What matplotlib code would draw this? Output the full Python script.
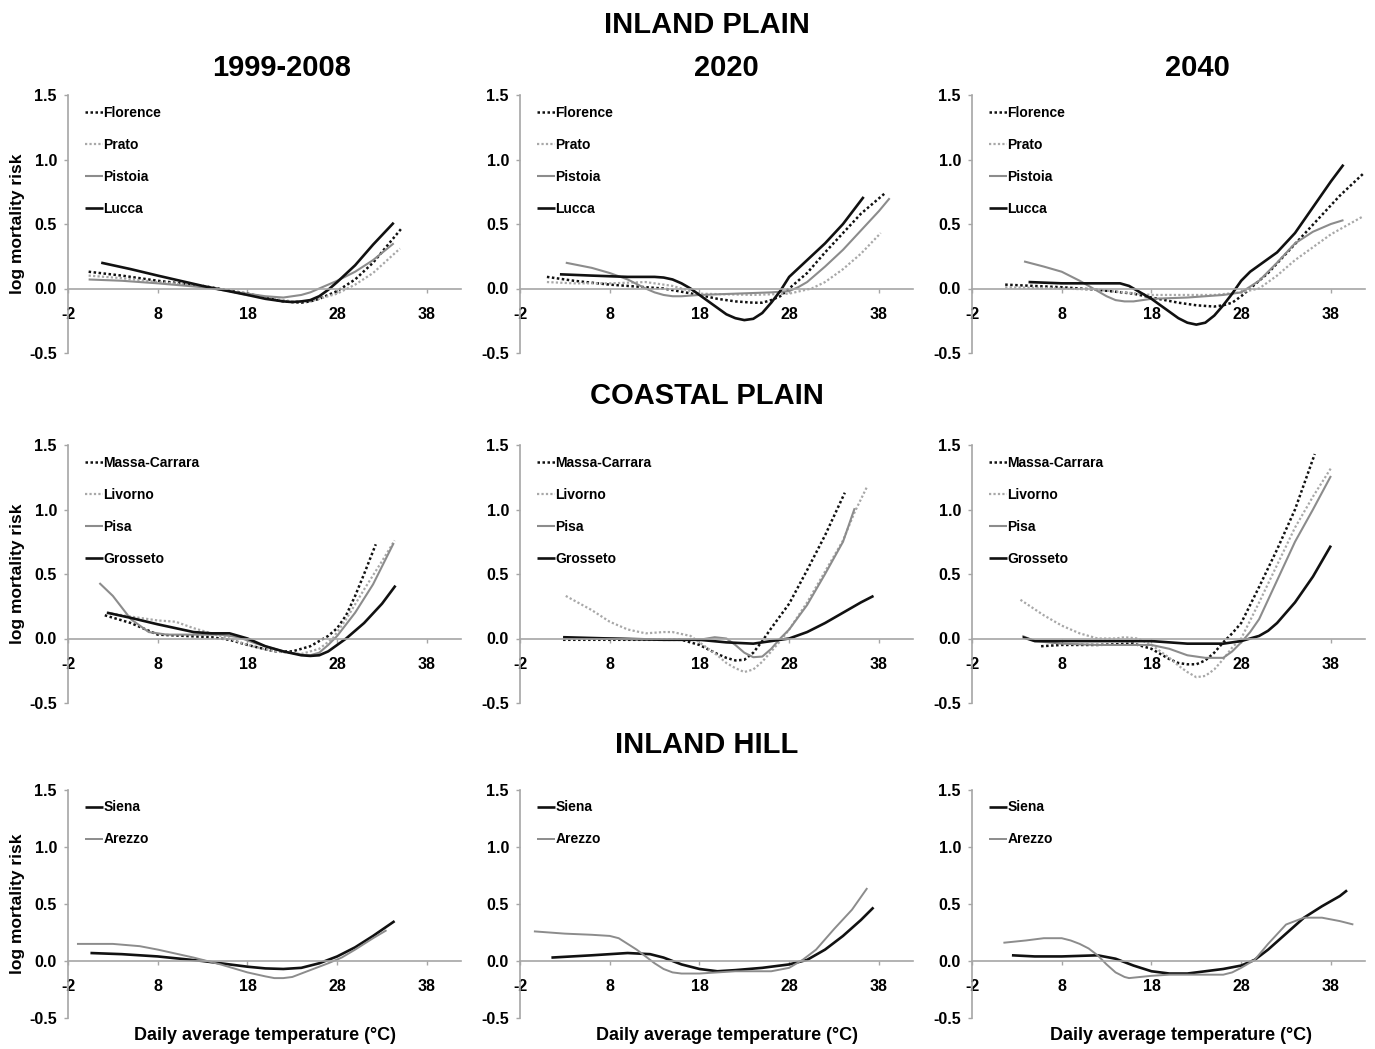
import matplotlib
matplotlib.use("Agg")
import matplotlib.pyplot as plt

plt.rcParams['font.family'] = ['Liberation Sans', 'DejaVu Sans']

# ---------------- data ----------------
periods = ["1999-2008", "2020", "2040"]
regions = ["INLAND PLAIN", "COASTAL PLAIN", "INLAND HILL"]
xticks = [-2, 8, 18, 28, 38]
yticks = [-0.5, 0.0, 0.5, 1.0, 1.5]

# Inland plain
florence_x = [[0.3, 4, 8, 13, 18, 20, 22, 24, 25, 26, 27, 28, 30, 32, 35.1],
              [1.0, 4, 8, 14, 18, 20, 22, 24, 25, 26, 27, 28, 30, 32, 34, 36, 38.7],
              [1.7, 8, 12, 16, 18, 21, 23, 25, 26, 27, 28, 29, 31, 33, 35, 37, 39, 41.6]]
florence_y = [[0.13, 0.1, 0.06, 0.02, -0.04, -0.07, -0.1, -0.11, -0.1, -0.08, -0.05, -0.02, 0.07, 0.2, 0.46],
              [0.09, 0.06, 0.03, 0.0, -0.05, -0.08, -0.1, -0.11, -0.11, -0.09, -0.06, 0.0, 0.12, 0.28, 0.43, 0.58, 0.74],
              [0.03, 0.01, -0.01, -0.04, -0.07, -0.11, -0.13, -0.14, -0.13, -0.11, -0.06, 0.0, 0.12, 0.27, 0.42, 0.57, 0.72, 0.89]]
prato_x = [[0.3, 4, 8, 13, 18, 21, 23, 25, 26, 28, 30, 32, 35],
           [1.0, 4, 8, 12, 15, 18, 24, 28, 30.5, 32, 34, 36, 38.2],
           [1.7, 8, 12, 18, 25, 28, 30, 32, 34, 36, 38, 41.6]]
prato_y = [[0.1, 0.08, 0.05, 0.02, -0.05, -0.08, -0.1, -0.1, -0.08, -0.04, 0.03, 0.12, 0.31],
           [0.05, 0.04, 0.04, 0.05, 0.02, -0.04, -0.05, -0.04, 0.0, 0.05, 0.15, 0.27, 0.43],
           [0.01, 0.0, -0.01, -0.05, -0.05, -0.03, 0.0, 0.1, 0.22, 0.32, 0.42, 0.56]]
pistoia_x = [[0.3, 4, 8, 13, 18, 20, 22, 24, 25, 26, 27, 28, 30, 32, 34.3],
             [3.1, 6, 8, 10, 12, 13, 14, 15, 16, 18, 22, 26, 28, 29, 30, 32, 34, 36, 38, 39.2],
             [3.8, 6, 8, 10, 12, 13, 14, 15, 16, 18, 22, 26, 28, 30, 32, 34, 36, 38, 39.4]]
pistoia_y = [[0.07, 0.06, 0.04, 0.01, -0.04, -0.06, -0.07, -0.05, -0.03, 0.0, 0.03, 0.06, 0.13, 0.22, 0.35],
             [0.2, 0.16, 0.12, 0.07, 0.0, -0.03, -0.05, -0.06, -0.06, -0.05, -0.04, -0.03, -0.02, 0.01, 0.05, 0.17, 0.3, 0.45, 0.6, 0.7],
             [0.21, 0.17, 0.13, 0.06, -0.02, -0.06, -0.09, -0.1, -0.1, -0.08, -0.07, -0.05, -0.03, 0.06, 0.2, 0.35, 0.44, 0.5, 0.53]]
lucca_x = [[1.7, 5, 8, 13, 18, 20, 22, 23, 24, 25, 26, 27, 28, 30, 32, 34.3],
           [2.45, 6, 10, 13, 14, 15, 16, 17, 18, 19, 20, 21, 22, 23, 24, 25, 26, 27, 28, 30, 32, 34, 36.3],
           [4.3, 8, 12, 14.5, 15.5, 16.5, 18, 19, 20, 21, 22, 23, 24, 25, 26, 27, 28, 29, 30, 32, 34, 36, 38, 39.4]]
lucca_y = [[0.2, 0.15, 0.1, 0.02, -0.05, -0.08, -0.1, -0.105, -0.1, -0.09, -0.06, -0.01, 0.05, 0.18, 0.34, 0.51],
           [0.11, 0.1, 0.09, 0.09, 0.085, 0.07, 0.04, 0.0, -0.05, -0.1, -0.15, -0.2, -0.23, -0.245, -0.235, -0.19, -0.11, -0.02, 0.09, 0.22, 0.35, 0.5, 0.71],
           [0.05, 0.04, 0.04, 0.04, 0.02, -0.02, -0.08, -0.13, -0.18, -0.23, -0.265, -0.28, -0.265, -0.21, -0.13, -0.04, 0.06, 0.13, 0.18, 0.28, 0.43, 0.63, 0.83, 0.96]]

# Coastal plain
massa_x = [[2.1, 5, 8, 11, 14, 16, 18, 21, 23, 25, 27, 28, 29, 30, 31, 32.3],
           [2.8, 8, 12, 16, 18, 20, 21, 22, 23, 24, 25, 26, 28, 30, 32, 34.2],
           [5.7, 8, 12, 16, 18, 20, 21, 22, 23, 24, 25, 26, 27, 28, 30, 32, 34, 36.2]]
massa_y = [[0.18, 0.12, 0.03, 0.02, 0.01, -0.01, -0.05, -0.1, -0.1, -0.06, 0.02, 0.08, 0.18, 0.33, 0.5, 0.73],
           [-0.01, -0.01, -0.01, -0.01, -0.05, -0.12, -0.15, -0.17, -0.165, -0.11, -0.02, 0.08, 0.27, 0.53, 0.8, 1.13],
           [-0.06, -0.05, -0.05, -0.04, -0.08, -0.16, -0.19, -0.2, -0.2, -0.17, -0.11, -0.03, 0.04, 0.12, 0.4, 0.69, 1.0, 1.43]]
livorno_x = [[2.3, 5, 8, 10, 12, 14, 16, 18, 21, 24, 26, 27.5, 29, 31, 33, 34.4],
             [3.1, 6, 8, 10, 12, 14, 15, 17, 18, 20, 21, 22, 23, 24, 25, 26, 27, 28, 30, 32, 34, 35.3, 36.7],
             [3.4, 6, 8, 10, 12, 14, 15, 16.5, 18, 20, 21, 22, 23, 24, 25, 26, 27, 28, 30, 32, 34, 36, 38]]
livorno_y = [[0.2, 0.17, 0.14, 0.13, 0.08, 0.04, 0.0, -0.05, -0.1, -0.12, -0.08, 0.0, 0.15, 0.38, 0.6, 0.76],
             [0.33, 0.22, 0.13, 0.07, 0.04, 0.05, 0.05, 0.02, -0.03, -0.13, -0.19, -0.23, -0.26, -0.24, -0.18, -0.1, -0.02, 0.07, 0.28, 0.52, 0.76, 0.98, 1.18],
             [0.3, 0.18, 0.1, 0.04, 0.0, 0.0, 0.01, 0.0, -0.05, -0.15, -0.21, -0.26, -0.3, -0.29, -0.24, -0.16, -0.07, 0.0, 0.28, 0.57, 0.86, 1.1, 1.32]]
pisa_x = [[1.5, 3, 5, 7, 9, 12, 15, 17, 19, 22, 24, 25, 26, 27, 28, 30, 32, 34.3],
          [2.8, 8, 14, 18, 19.7, 21, 22, 23, 24, 25, 26, 27, 28, 30, 32, 34, 35.3],
          [3.6, 5, 8, 12, 16, 18, 20, 22, 24, 26, 27, 28, 29, 30, 32, 34, 36, 38]]
pisa_y = [[0.43, 0.33, 0.15, 0.05, 0.03, 0.03, 0.03, 0.01, -0.04, -0.1, -0.125, -0.13, -0.11, -0.05, 0.02, 0.2, 0.42, 0.74],
          [0.0, 0.0, -0.01, -0.01, 0.01, 0.0, -0.05, -0.11, -0.145, -0.14, -0.08, 0.0, 0.07, 0.26, 0.5, 0.75, 1.01],
          [0.02, -0.02, -0.04, -0.05, -0.05, -0.05, -0.08, -0.13, -0.15, -0.15, -0.1, -0.03, 0.05, 0.15, 0.45, 0.75, 1.0, 1.26]]
grosseto_x = [[2.35, 5, 8, 10, 12, 14, 16, 18, 20, 22, 24, 25, 26, 27, 28, 29, 31, 33, 34.5],
              [2.8, 8, 14, 18, 21, 24, 26, 28, 30, 32, 34, 36, 37.4],
              [3.65, 5, 8, 12, 16, 18, 20, 22, 26, 28, 29, 30, 31, 32, 34, 36, 38]]
grosseto_y = [[0.2, 0.16, 0.11, 0.08, 0.05, 0.04, 0.04, 0.0, -0.06, -0.1, -0.13, -0.135, -0.13, -0.1, -0.05, 0.0, 0.12, 0.27, 0.41],
              [0.01, 0.0, -0.01, -0.01, -0.03, -0.04, -0.02, 0.0, 0.05, 0.12, 0.2, 0.28, 0.33],
              [0.01, -0.02, -0.02, -0.02, -0.02, -0.02, -0.03, -0.04, -0.04, -0.02, 0.0, 0.02, 0.06, 0.12, 0.28, 0.48, 0.72]]

# Inland hill
siena_x = [[0.5, 4, 8, 13, 15, 18, 20, 22, 24, 26, 28, 30, 32, 34.4],
           [1.5, 6, 10, 12.5, 14, 16, 18, 20, 22, 25, 28, 30, 32, 34, 36, 37.4],
           [2.45, 5, 8, 12, 14, 16, 18, 20, 22, 24, 26, 28, 29.5, 31, 33, 35, 37, 39, 39.8]]
siena_y = [[0.07, 0.06, 0.04, 0.0, -0.02, -0.05, -0.065, -0.07, -0.06, -0.02, 0.04, 0.12, 0.22, 0.35],
           [0.03, 0.05, 0.07, 0.06, 0.03, -0.03, -0.07, -0.09, -0.08, -0.06, -0.03, 0.01, 0.1, 0.22, 0.36, 0.47],
           [0.05, 0.04, 0.04, 0.05, 0.02, -0.04, -0.09, -0.11, -0.11, -0.09, -0.07, -0.04, 0.01, 0.1, 0.24, 0.38, 0.48, 0.57, 0.62]]
arezzo_x = [[-1.0, 3, 6, 8, 12, 15, 18, 20, 21, 22, 23, 25, 27, 28.5, 30, 32, 33.5],
            [-0.45, 3, 6, 8, 9, 10, 11, 12, 13, 14, 15, 16, 18, 22, 26, 28, 29.5, 31, 33, 35, 36.7],
            [1.5, 4, 6, 8, 9, 10, 11, 12, 13, 14, 15, 15.5, 18, 20, 24, 26, 27, 28, 29.5, 31, 33, 35, 37, 39, 40.5]]
arezzo_y = [[0.15, 0.15, 0.13, 0.1, 0.03, -0.03, -0.1, -0.135, -0.15, -0.15, -0.14, -0.08, -0.02, 0.03, 0.1, 0.2, 0.27],
            [0.26, 0.24, 0.23, 0.22, 0.2, 0.15, 0.1, 0.04, -0.02, -0.07, -0.1, -0.11, -0.11, -0.09, -0.09, -0.06, 0.01, 0.1, 0.28, 0.45, 0.64],
            [0.16, 0.18, 0.2, 0.2, 0.18, 0.15, 0.11, 0.05, -0.03, -0.1, -0.14, -0.15, -0.13, -0.12, -0.12, -0.12, -0.1, -0.06, 0.01, 0.15, 0.32, 0.38, 0.38, 0.35, 0.32]]

# ---------------- styles ----------------
BLACK = '#111111'
GRAY = '#8c8c8c'
LGRAY = '#a8a8a8'
AXC = '#a6a6a6'
DOT = (0, (1, 1))

st_black_dot = dict(color=BLACK, lw=1.8, ls=DOT)
st_gray_dot = dict(color=LGRAY, lw=1.6, ls=DOT)
st_gray = dict(color=GRAY, lw=1.5, ls='-')
st_black = dict(color=BLACK, lw=1.9, ls='-')

rows = [
    [("Florence", florence_x, florence_y, st_black_dot),
     ("Prato", prato_x, prato_y, st_gray_dot),
     ("Pistoia", pistoia_x, pistoia_y, st_gray),
     ("Lucca", lucca_x, lucca_y, st_black)],
    [("Massa-Carrara", massa_x, massa_y, st_black_dot),
     ("Livorno", livorno_x, livorno_y, st_gray_dot),
     ("Pisa", pisa_x, pisa_y, st_gray),
     ("Grosseto", grosseto_x, grosseto_y, st_black)],
    [("Siena", siena_x, siena_y, st_black),
     ("Arezzo", arezzo_x, arezzo_y, dict(color=GRAY, lw=1.4, ls='-'))],
]

W, H = 1375, 1049
fig = plt.figure(figsize=(W / 100, H / 100), dpi=100)

col_left = [68, 520, 972]
col_w = 393
row_top = [95, 445, 790]
row_bot = [353, 703, 1018]

for r in range(3):
    for c in range(3):
        l = col_left[c] / W
        b = 1 - row_bot[r] / H
        h = (row_bot[r] - row_top[r]) / H
        ax = fig.add_axes([l, b, col_w / W, h])
        for name, xs, ys, st in rows[r]:
            ax.plot(xs[c], ys[c], label=name, solid_joinstyle='round',
                    solid_capstyle='butt', **st)
        ax.set_xlim(-2, 41.8)
        ax.set_ylim(-0.5, 1.5)
        ax.spines['top'].set_visible(False)
        ax.spines['right'].set_visible(False)
        ax.spines['bottom'].set_position(('data', 0))
        ax.spines['left'].set_color(AXC)
        ax.spines['bottom'].set_color(AXC)
        ax.spines['left'].set_linewidth(1.2)
        ax.spines['bottom'].set_linewidth(1.2)
        ax.set_xticks(xticks)
        ax.set_yticks(yticks)
        ax.set_xticklabels([str(t) for t in xticks])
        ax.set_yticklabels([f"{t:.1f}" for t in yticks])
        ax.tick_params(axis='x', direction='out', length=3, width=1, color=AXC,
                       pad=10, labelsize=11.5)
        ax.tick_params(axis='y', direction='out', length=3, width=1, color=AXC,
                       pad=5, labelsize=11.5)
        for lab in ax.get_xticklabels() + ax.get_yticklabels():
            lab.set_fontweight('bold')
        ax.patch.set_alpha(0)
        leg = ax.legend(loc='upper left', bbox_to_anchor=(0.025, 0.985),
                        frameon=False, borderpad=0, handlelength=1.3,
                        handletextpad=0.05, labelspacing=1.3,
                        prop={'weight': 'bold', 'size': 10})
        if c == 0:
            fig.text(18 / W, 1 - (row_top[r] + row_bot[r]) / 2 / H,
                     "log mortality risk", rotation=90, ha='center',
                     va='center', fontsize=12.5, fontweight='bold')

# region titles
for r, (txt, y) in enumerate(zip(regions, [25, 396, 745])):
    fig.text(707 / W, 1 - y / H, txt, ha='center', va='center',
             fontsize=21, fontweight='bold')

# period titles
for txt, x in zip(periods, [282, 726, 1197]):
    fig.text(x / W, 1 - 68 / H, txt, ha='center', va='center',
             fontsize=21, fontweight='bold')

# x labels
for x in [265, 727, 1181]:
    fig.text(x / W, 1 - 1036 / H, "Daily average temperature (\u00b0C)",
             ha='center', va='center', fontsize=13, fontweight='bold')

fig.savefig("out.png", dpi=100)
